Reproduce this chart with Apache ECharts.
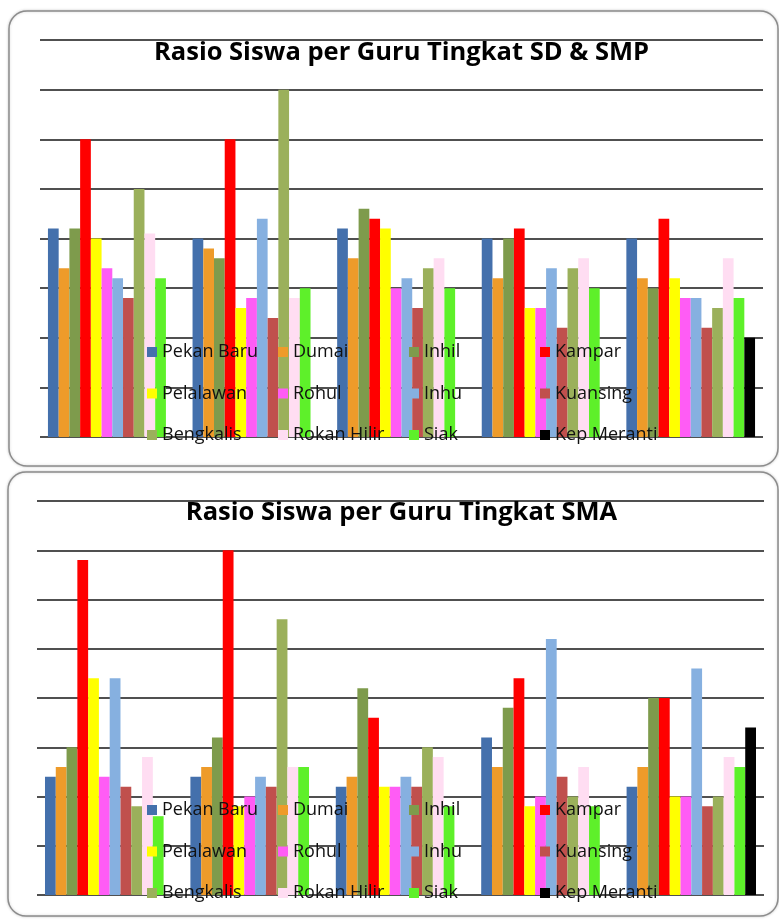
<!DOCTYPE html>
<html>
<head>
<meta charset="utf-8">
<title>Rasio Siswa per Guru</title>
<script src="https://cdn.jsdelivr.net/npm/echarts@6/dist/echarts.min.js"></script>
<style>
  html, body { margin: 0; padding: 0; background: #ffffff; }
  #chart { width: 779px; height: 920px; }
</style>
</head>
<body>
<div id="chart"></div>
<script>
// Five groups per panel (axis labels are not shown)
const categories = ['1', '2', '3', '4', '5'];

const regions = ['Pekan Baru', 'Dumai', 'Inhil', 'Kampar',
                 'Pelalawan', 'Rohul', 'Inhu', 'Kuansing',
                 'Bengkalis', 'Rokan Hilir', 'Siak', 'Kep Meranti'];

const palette = ['#4470AC', '#EE9B2A', '#7E9B4C', '#FF0000',
                 '#FFFF00', '#FF5CF5', '#86B0E0', '#C0504D',
                 '#9BB05B', '#FFDDF2', '#5EF02A', '#000000'];

// SD & SMP
const sdPekanBaru  = [21, 20, 21, 20, 20];
const sdDumai      = [17, 19, 18, 16, 16];
const sdInhil      = [21, 18, 23, 20, 15];
const sdKampar     = [30, 30, 22, 21, 22];
const sdPelalawan  = [20, 13, 21, 13, 16];
const sdRohul      = [17, 14, 15, 13, 14];
const sdInhu       = [16, 22, 16, 17, 14];
const sdKuansing   = [14, 12, 13, 11, 11];
const sdBengkalis  = [25, 35, 17, 17, 13];
const sdRokanHilir = [20.5, 14, 18, 18, 18];
const sdSiak       = [16, 15, 15, 15, 14];
const sdKepMeranti = [null, null, null, null, 10];

// SMA
const smaPekanBaru  = [12, 12, 11, 16, 11];
const smaDumai      = [13, 13, 12, 13, 13];
const smaInhil      = [15, 16, 21, 19, 20];
const smaKampar     = [34, 35, 18, 22, 20];
const smaPelalawan  = [22, 9, 11, 9, 10];
const smaRohul      = [12, 10, 11, 10, 10];
const smaInhu       = [22, 12, 12, 26, 23];
const smaKuansing   = [11, 11, 11, 12, 9];
const smaBengkalis  = [9, 28, 15, 10, 10];
const smaRokanHilir = [14, 13, 14, 13, 14];
const smaSiak       = [8, 13, 9, 9, 13];
const smaKepMeranti = [null, null, null, null, 17];

const sdSeries = [sdPekanBaru, sdDumai, sdInhil, sdKampar, sdPelalawan, sdRohul,
                  sdInhu, sdKuansing, sdBengkalis, sdRokanHilir, sdSiak, sdKepMeranti];
const smaSeries = [smaPekanBaru, smaDumai, smaInhil, smaKampar, smaPelalawan, smaRohul,
                   smaInhu, smaKuansing, smaBengkalis, smaRokanHilir, smaSiak, smaKepMeranti];

const titles = ['Rasio Siswa per Guru Tingkat SD & SMP', 'Rasio Siswa per Guru Tingkat SMA'];

const FONT = '"Open Sans", Lato, sans-serif';

const panels = [
  { box: [9, 11, 769, 455], grid: { left: 40, right: 16, top: 40, height: 397 }, titleY: 53, legendTop: 342, values: sdSeries },
  { box: [8, 472, 770, 444], grid: { left: 37, right: 15, top: 501, height: 394 }, titleY: 513, legendTop: 800, values: smaSeries }
];

const legendCols = [147, 278, 409, 540];

const grids = [], xAxes = [], yAxes = [], series = [], legends = [], graphics = [];

panels.forEach((p, pi) => {
  graphics.push({
    type: 'rect', z: -10,
    shape: { x: p.box[0], y: p.box[1], width: p.box[2], height: p.box[3], r: 18 },
    style: { fill: '#ffffff', stroke: '#8c8c8c', lineWidth: 1.5,
             shadowColor: 'rgba(0,0,0,0.18)', shadowBlur: 3 }
  });
  graphics.push({
    type: 'text', z: 100,
    style: { text: titles[pi], x: 401.5, y: p.titleY, align: 'center', verticalAlign: 'middle',
             font: 'bold 25.5px ' + FONT, fill: '#000000' }
  });

  grids.push(p.grid);
  xAxes.push({
    type: 'category', gridIndex: pi, data: categories,
    axisLine: { show: false }, axisTick: { show: false }, axisLabel: { show: false }
  });
  yAxes.push({
    type: 'value', gridIndex: pi, min: 0, max: 40, interval: 5,
    axisLine: { show: false }, axisTick: { show: false }, axisLabel: { show: false },
    splitLine: { show: true, lineStyle: { color: '#161616', width: 1.6 } }
  });

  regions.forEach((name, i) => {
    series.push({
      name: name, type: 'bar', xAxisIndex: pi, yAxisIndex: pi,
      data: p.values[i],
      barGap: '0%', barCategoryGap: '11%',
      itemStyle: { color: palette[i] },
      emphasis: { disabled: true },
      animation: false
    });
  });

  legendCols.forEach((x, c) => {
    legends.push({
      orient: 'vertical', left: x, top: p.legendTop, padding: 0, z: 10,
      icon: 'rect', itemWidth: 10, itemHeight: 10, itemGap: 21.5,
      selectedMode: false,
      data: [regions[c], regions[c + 4], regions[c + 8]],
      textStyle: { fontFamily: FONT, fontSize: 18, color: '#111111', lineHeight: 20 }
    });
  });
});

const chart = echarts.init(document.getElementById('chart'), null, { renderer: 'canvas' });
chart.setOption({
  backgroundColor: '#ffffff',
  animation: false,
  color: palette,
  grid: grids,
  xAxis: xAxes,
  yAxis: yAxes,
  legend: legends,
  series: series,
  graphic: graphics
});
</script>
</body>
</html>
